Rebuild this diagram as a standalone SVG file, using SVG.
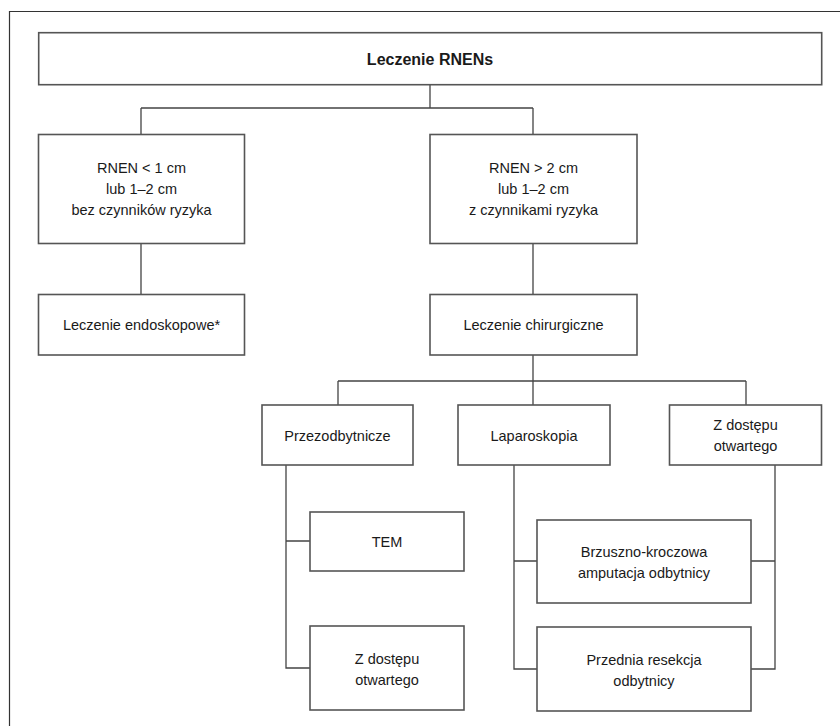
<svg xmlns="http://www.w3.org/2000/svg" width="840" height="726" viewBox="0 0 840 726">
<style>
.box{fill:#fff;stroke:#555;stroke-width:1.6}
.ln{fill:none;stroke:#444;stroke-width:1.3}
text{font-family:"Liberation Sans","Arial",sans-serif;font-size:14.5px;fill:#1a1a1a;text-anchor:middle}
.b{font-weight:bold;font-size:16px}
</style>
<rect width="840" height="726" fill="#fff"/>
<path d="M9.5,726 V11.5 H840" fill="none" stroke="#333" stroke-width="1.2"/>
<g id="connectors">
<path class="ln" d="M430,85 V108 M141,108 H533 M141,108 V134 M533,108 V134"/>
<path class="ln" d="M141,243 V294 M533,243 V294"/>
<path class="ln" d="M533,355 V381 M338,381 H746 M338,381 V405 M533,381 V405 M746,381 V405"/>
<path class="ln" d="M286,465 V668 H310 M286,541 H310"/>
<path class="ln" d="M514,465 V669 H537 M514,561 H537"/>
<path class="ln" d="M775,465 V669 H751 M775,561 H751"/>
</g>
<g id="root"><rect class="box" x="38.7" y="32.7" width="783" height="52"/><text class="b" x="430" y="64.5">Leczenie RNENs</text></g>
<g id="small"><rect class="box" x="38.5" y="134.5" width="206" height="109"/>
<text x="141.5" y="173">RNEN &lt; 1 cm</text><text x="141.5" y="194">lub 1–2 cm</text><text x="141.5" y="215">bez czynników ryzyka</text></g>
<g id="large"><rect class="box" x="430" y="134.5" width="207" height="109"/>
<text x="533.5" y="173">RNEN &gt; 2 cm</text><text x="533.5" y="194">lub 1–2 cm</text><text x="533.5" y="215">z czynnikami ryzyka</text></g>
<g id="endo"><rect class="box" x="38.5" y="294.5" width="206" height="60.5"/><text x="141.5" y="330">Leczenie endoskopowe*</text></g>
<g id="chir"><rect class="box" x="430" y="294.5" width="207" height="60.5"/><text x="533.5" y="330">Leczenie chirurgiczne</text></g>
<g id="przez"><rect class="box" x="262" y="405" width="151" height="60"/><text x="337.5" y="441">Przezodbytnicze</text></g>
<g id="lap"><rect class="box" x="458" y="405" width="152" height="60"/><text x="534" y="441">Laparoskopia</text></g>
<g id="open"><rect class="box" x="669.5" y="405" width="152" height="60"/><text x="745.5" y="430">Z dostępu</text><text x="745.5" y="451">otwartego</text></g>
<g id="tem"><rect class="box" x="310" y="512" width="154" height="59"/><text x="387" y="547">TEM</text></g>
<g id="open2"><rect class="box" x="310" y="626" width="154" height="84"/><text x="387" y="663.5">Z dostępu</text><text x="387" y="684.5">otwartego</text></g>
<g id="apr"><rect class="box" x="537" y="520" width="214" height="83"/><text x="644" y="556.5">Brzuszno-kroczowa</text><text x="644" y="577.5">amputacja odbytnicy</text></g>
<g id="ar"><rect class="box" x="537" y="627" width="214" height="84"/><text x="644" y="665">Przednia resekcja</text><text x="644" y="686">odbytnicy</text></g>
</svg>
